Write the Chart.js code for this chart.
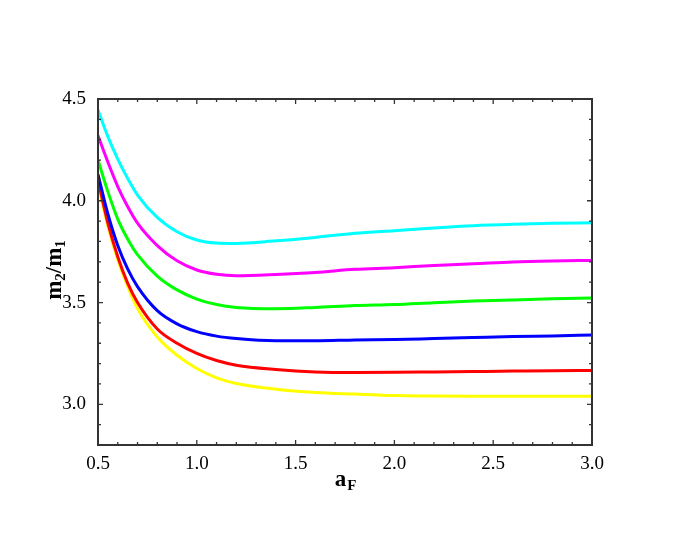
<!DOCTYPE html>
<html>
<head>
<meta charset="utf-8">
<script src="https://cdn.jsdelivr.net/npm/chart.js@4.4.1/dist/chart.umd.min.js"></script>
<style>
  html, body { margin: 0; padding: 0; background: #fff; }
  #wrap { width: 692px; height: 544px; }
</style>
</head>
<body>
<div id="wrap"><canvas id="chart" width="692" height="544"></canvas></div>
<script>
const aF = [0.5, 0.55, 0.6, 0.65, 0.7, 0.8, 0.9, 1.0, 1.1, 1.2, 1.4, 1.6, 1.8, 2.0, 2.2, 2.4, 2.6, 2.8, 3.0];
const cyanVals    = [4.446, 4.315, 4.205, 4.11, 4.028, 3.918, 3.848, 3.807, 3.792, 3.79, 3.803, 3.82, 3.84, 3.853, 3.866, 3.877, 3.884, 3.889, 3.892];
const magentaVals = [4.32, 4.19, 4.07, 3.972, 3.89, 3.78, 3.705, 3.66, 3.639, 3.632, 3.638, 3.648, 3.663, 3.671, 3.682, 3.690, 3.699, 3.704, 3.707];
const greenVals   = [4.20, 4.045, 3.91, 3.812, 3.735, 3.63, 3.562, 3.517, 3.49, 3.476, 3.470, 3.476, 3.485, 3.49, 3.499, 3.507, 3.513, 3.518, 3.522];
const blueVals    = [4.13, 3.935, 3.78, 3.665, 3.578, 3.46, 3.395, 3.357, 3.335, 3.323, 3.312, 3.312, 3.316, 3.318, 3.323, 3.328, 3.333, 3.336, 3.34];
const redVals     = [4.10, 3.89, 3.725, 3.595, 3.50, 3.37, 3.30, 3.25, 3.215, 3.192, 3.171, 3.159, 3.156, 3.157, 3.159, 3.161, 3.163, 3.165, 3.166];
const yellowVals  = [4.085, 3.875, 3.71, 3.58, 3.47, 3.331, 3.241, 3.176, 3.13, 3.102, 3.074, 3.058, 3.05, 3.043, 3.041, 3.04, 3.04, 3.04, 3.04];
const xTickVals = [0.5, 1.0, 1.5, 2.0, 2.5, 3.0];
const yTickVals = [3.0, 3.5, 4.0, 4.5];

const serif = "'Liberation Serif', 'Times New Roman', serif";

function series(vals, color) {
    return {
        data: aF.map((x, i) => ({ x: x, y: vals[i] })),
        borderColor: color,
        borderWidth: 3,
        pointRadius: 0,
        fill: false,
        cubicInterpolationMode: 'monotone'
    };
}

// box, inward ticks and subscripted axis titles
const framePlugin = {
    id: 'frame',
    afterDraw(chart) {
        const ctx = chart.ctx;
        const a = chart.chartArea;
        const xs = chart.scales.x, ys = chart.scales.y;
        ctx.save();
        ctx.strokeStyle = '#333';
        ctx.lineWidth = 2;
        ctx.strokeRect(a.left, a.top, a.right - a.left, a.bottom - a.top);
        ctx.lineWidth = 1.3;
        ctx.beginPath();
        for (let i = 5; i <= 30; i++) {
            const px = xs.getPixelForValue(i / 10);
            const len = i % 5 === 0 ? 5 : 3;
            ctx.moveTo(px, a.bottom); ctx.lineTo(px, a.bottom - len);
            ctx.moveTo(px, a.top); ctx.lineTo(px, a.top + len);
        }
        for (let i = 28; i <= 45; i++) {
            const py = ys.getPixelForValue(i / 10);
            const len = i % 5 === 0 ? 5 : 3;
            ctx.moveTo(a.left, py); ctx.lineTo(a.left + len, py);
            ctx.moveTo(a.right, py); ctx.lineTo(a.right - len, py);
        }
        ctx.stroke();

        ctx.fillStyle = '#000';
        ctx.textBaseline = 'alphabetic';
        ctx.textAlign = 'left';
        // x title: a_F
        const cx = (a.left + a.right) / 2;
        ctx.font = 'bold 23px ' + serif;
        const wa = ctx.measureText('a').width;
        ctx.font = 'bold 15px ' + serif;
        const wf = ctx.measureText('F').width;
        const sx = cx - (wa + wf) / 2;
        ctx.font = 'bold 23px ' + serif;
        ctx.fillText('a', sx, 486);
        ctx.font = 'bold 15px ' + serif;
        ctx.fillText('F', sx + wa + 1, 490);

        // y title: m_2/m_1
        ctx.translate(61, (a.top + a.bottom) / 2 - 2);
        ctx.rotate(-Math.PI / 2);
        const parts = [['m', 23, 0], ['2', 15, 4], ['/m', 23, 0], ['1', 15, 4]];
        let total = 0;
        parts.forEach(p => { ctx.font = 'bold ' + p[1] + 'px ' + serif; total += ctx.measureText(p[0]).width; });
        let pos = -total / 2;
        parts.forEach(p => {
            ctx.font = 'bold ' + p[1] + 'px ' + serif;
            ctx.fillText(p[0], pos, p[2]);
            pos += ctx.measureText(p[0]).width;
        });
        ctx.restore();
    }
};

new Chart(document.getElementById('chart'), {
    type: 'line',
    data: {
        datasets: [
            series(cyanVals, '#00ffff'),
            series(magentaVals, '#ff00ff'),
            series(greenVals, '#00ff00'),
            series(blueVals, '#0000ff'),
            series(redVals, '#ff0000'),
            series(yellowVals, '#ffff00')
        ]
    },
    options: {
        responsive: false,
        animation: false,
        layout: { padding: { left: 0, top: 99, right: 100, bottom: 0 } },
        plugins: { legend: { display: false }, tooltip: { enabled: false } },
        scales: {
            x: {
                type: 'linear', min: 0.5, max: 3.0,
                afterBuildTicks: s => { s.ticks = xTickVals.map(v => ({ value: v })); },
                afterFit: s => { s.height = 99; },
                grid: { display: false, drawTicks: false },
                border: { display: false },
                ticks: { color: '#000', padding: 8, font: { family: serif, size: 19 }, callback: v => v.toFixed(1), maxRotation: 0 }
            },
            y: {
                type: 'linear', min: 2.8, max: 4.5,
                afterBuildTicks: s => { s.ticks = yTickVals.map(v => ({ value: v })); },
                afterFit: s => { s.width = 98; },
                grid: { display: false, drawTicks: false },
                border: { display: false },
                ticks: { color: '#000', padding: 12, font: { family: serif, size: 19 }, callback: v => v.toFixed(1) }
            }
        }
    },
    plugins: [framePlugin]
});
</script>
</body>
</html>
